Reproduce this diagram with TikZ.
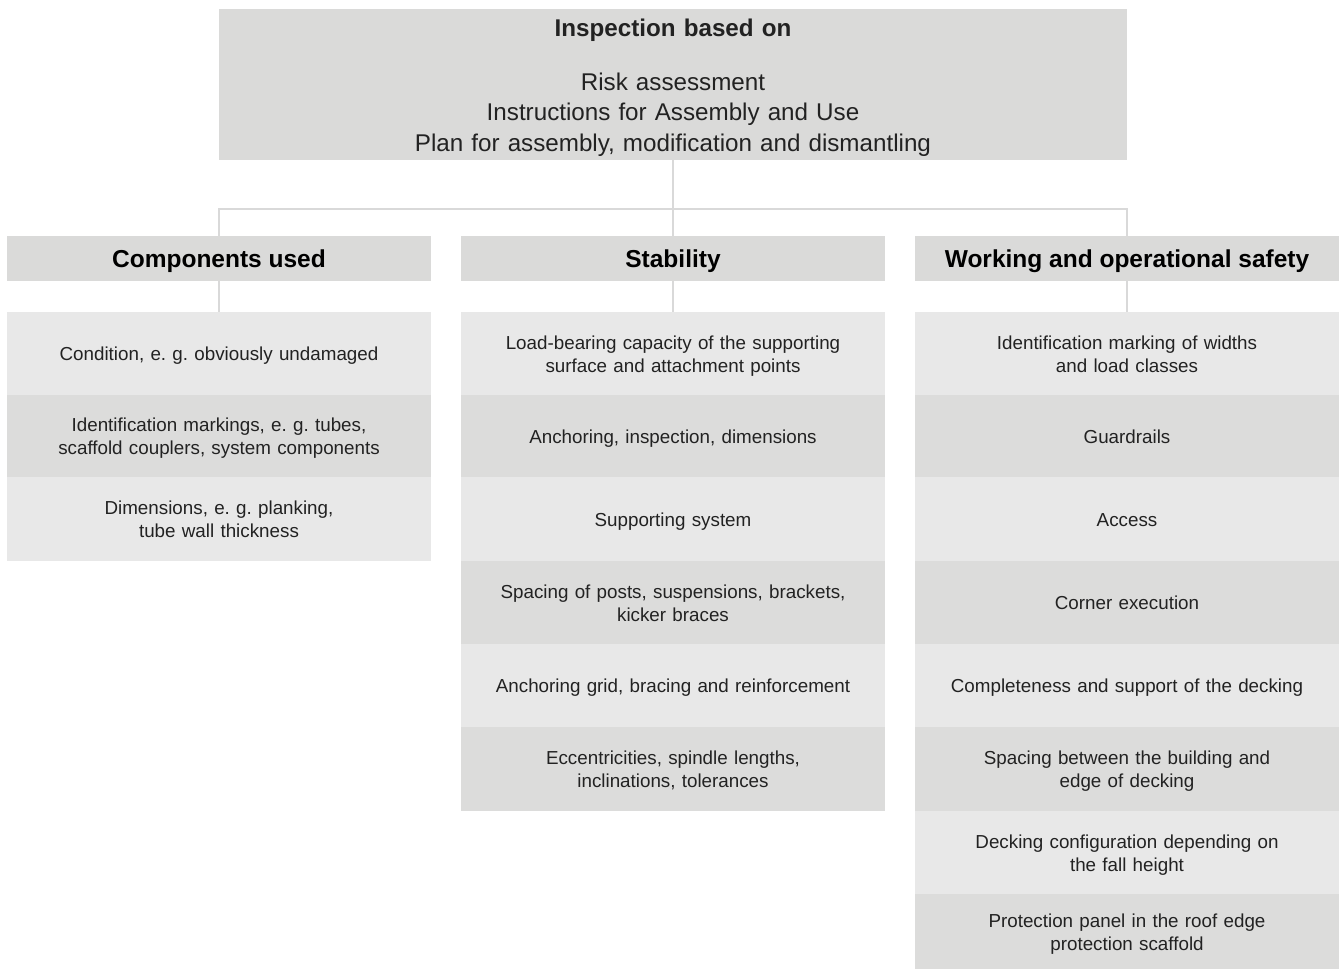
\documentclass[tikz,border=0pt]{standalone}
\usepackage{fontspec}
\setmainfont{Liberation Sans}
\frenchspacing
\definecolor{boxgray}{HTML}{DADAD9}
\definecolor{cellA}{HTML}{E8E8E8}
\definecolor{cellB}{HTML}{DCDCDB}
\definecolor{linegray}{HTML}{D9D9D9}
\definecolor{txt}{HTML}{222222}
\tikzset{
  conn/.style={draw=linegray, line width=2pt},
  topbox/.style={fill=boxgray, minimum width=908pt, minimum height=151pt, inner sep=0pt, text width=880pt, align=center, text=txt,
     font=\fontsize{24.2}{30.5}\selectfont,
     execute at begin node=\rule{0pt}{24.5pt},
     execute at end node=\rule[-5.5pt]{0pt}{0pt}},
  headbox/.style={fill=boxgray, minimum width=424pt, minimum height=45pt, inner sep=0pt, text=black,
     font=\fontsize{24.5}{28}\selectfont\bfseries,
     execute at begin node=\rule{0pt}{23.5pt},
     execute at end node=\rule[-0.9pt]{0pt}{0pt}},
  cell/.style={minimum width=424pt, inner sep=0pt, text width=410pt, align=center, text=txt,
     font=\fontsize{18.8}{23}\selectfont,
     execute at begin node=\rule{0pt}{20pt},
     execute at end node=\rule[-5.4pt]{0pt}{0pt}},
  la/.style={cell, fill=cellA},
  lb/.style={cell, fill=cellB},
}
\begin{document}
\begin{tikzpicture}[x=1pt,y=-1pt]
\useasboundingbox (0,0) rectangle (1340,970);
% top
\node[topbox] (top) at (673,84.5) {\textbf{Inspection based on}\\[22.8pt]Risk assessment\\Instructions for Assembly and Use\\Plan for assembly, modification and dismantling};
% headers
\node[headbox] (h1) at (219,258.5) {Components used};
\node[headbox] (h2) at (673,258.5) {Stability};
\node[headbox] (h3) at (1127,258.5) {Working and operational safety};
\coordinate (j1) at (219,209);
\coordinate (j3) at (1127,209);
% column 1
\node[la, minimum height=83.5pt] (c11) at (219,353.5) {Condition, e. g. obviously undamaged};
\node[lb, minimum height=82.5pt] (c12) at (219,436) {Identification markings, e. g. tubes,\\scaffold couplers, system components};
\node[la, minimum height=84.5pt] (c13) at (219,519) {Dimensions, e. g. planking,\\tube wall thickness};
% column 2
\node[la, minimum height=83.5pt] (c21) at (673,353.5) {Load-bearing capacity of the supporting\\surface and attachment points};
\node[lb, minimum height=82.5pt] (c22) at (673,436) {Anchoring, inspection, dimensions};
\node[la, minimum height=84.5pt] (c23) at (673,519) {Supporting system};
\node[lb, minimum height=83.5pt] (c24) at (673,602.5) {Spacing of posts, suspensions, brackets,\\kicker braces};
\node[la, minimum height=83.5pt] (c25) at (673,685.5) {Anchoring grid, bracing and reinforcement};
\node[lb, minimum height=84.5pt] (c26) at (673,769) {Eccentricities, spindle lengths,\\inclinations, tolerances};
% column 3
\node[la, minimum height=83.5pt] (c31) at (1127,353.5) {Identification marking of widths\\and load classes};
\node[lb, minimum height=82.5pt] (c32) at (1127,436) {Guardrails};
\node[la, minimum height=84.5pt] (c33) at (1127,519) {Access};
\node[lb, minimum height=83.5pt] (c34) at (1127,602.5) {Corner execution};
\node[la, minimum height=83.5pt] (c35) at (1127,685.5) {Completeness and support of the decking};
\node[lb, minimum height=84.5pt] (c36) at (1127,769) {Spacing between the building and\\edge of decking};
\node[la, minimum height=83.5pt] (c37) at (1127,852.5) {Decking configuration depending on\\the fall height};
\node[lb, minimum height=75pt] (c38) at (1127,931.5) {Protection panel in the roof edge\\protection scaffold};
% connectors
\draw[conn] (top.south) -- (h2.north);
\draw[conn] (h1.north) -- (j1) -- (j3) -- (h3.north);
\draw[conn] (h1.south) -- (c11.north);
\draw[conn] (h2.south) -- (c21.north);
\draw[conn] (h3.south) -- (c31.north);
\end{tikzpicture}
\end{document}
